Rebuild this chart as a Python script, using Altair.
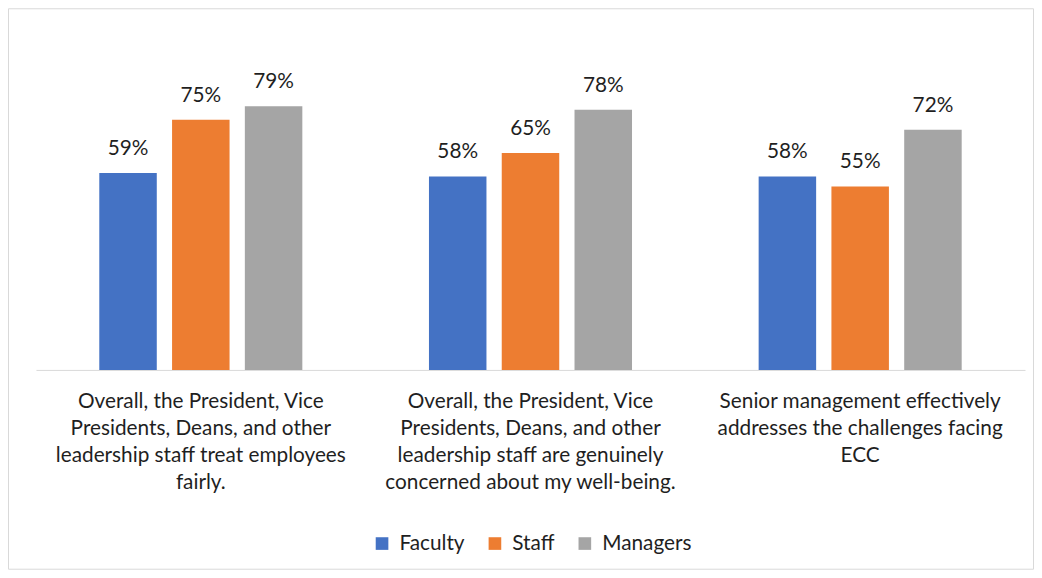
import altair as alt
import pandas as pd

categories = [
    "Overall, the President, Vice|Presidents, Deans, and other|leadership staff treat employees|fairly.",
    "Overall, the President, Vice|Presidents, Deans, and other|leadership staff are genuinely|concerned about my well-being.",
    "Senior management effectively|addresses the challenges facing|ECC",
]
series = ["Faculty", "Staff", "Managers"]
faculty = [0.59, 0.58, 0.58]
staff = [0.75, 0.65, 0.55]
managers = [0.79, 0.78, 0.72]
colors = ["#4472C4", "#ED7D31", "#A5A5A5"]

rows = []
for i, c in enumerate(categories):
    for s, vals in zip(series, [faculty, staff, managers]):
        rows.append({"category": c, "group": s, "value": vals[i]})
df = pd.DataFrame(rows)

FONT = "Lato"
TXT = "#1f1f1f"
FS = 20.8

x = alt.X("category:N", sort=categories,
          scale=alt.Scale(paddingInner=0, paddingOuter=0),
          axis=alt.Axis(title=None, labelAngle=0, ticks=False, domainColor="#d9d9d9",
                        labelExpr="split(datum.label, '|')", labelFontSize=FS,
                        labelFont=FONT, labelColor=TXT, labelPadding=22,
                        labelLineHeight=27, labelLimit=400))
xo = alt.XOffset("group:N", sort=series,
                 scale=alt.Scale(paddingInner=0.21, paddingOuter=0.87))
y = alt.Y("value:Q", scale=alt.Scale(domain=[0, 1]), axis=None)

base = alt.Chart(df)
bars = base.mark_bar().encode(
    x=x, xOffset=xo, y=y,
    color=alt.Color("group:N", sort=series,
                    scale=alt.Scale(domain=series, range=colors),
                    legend=alt.Legend(title=None, orient="none", direction="horizontal",
                                      legendX=336, legendY=497, symbolType="square",
                                      symbolSize=160, symbolStrokeWidth=0,
                                      labelFont=FONT, labelFontSize=FS, labelColor=TXT,
                                      columnPadding=19, labelOffset=7)),
)
labels = base.mark_text(baseline="bottom", dy=-14, font=FONT, fontSize=FS, color=TXT).encode(
    x=x, xOffset=xo, y=y, text=alt.Text("value:Q", format=".0%"),
)
border = alt.Chart(pd.DataFrame({"a": [0]})).mark_rect(
    fill=None, stroke="#d9d9d9", strokeWidth=1
).encode(x=alt.value(-27.5), x2=alt.value(998.5), y=alt.value(-27.5), y2=alt.value(533.5))

chart = alt.layer(border, bars, labels).properties(
    width=990, height=334,
    autosize=alt.AutoSizeParams(type="none"),
    padding={"left": 28, "top": 28, "right": 9, "bottom": 200},
    background="white",
).configure_view(stroke=None)

chart.save("out.html", embed_options={"renderer": "svg", "actions": False})
